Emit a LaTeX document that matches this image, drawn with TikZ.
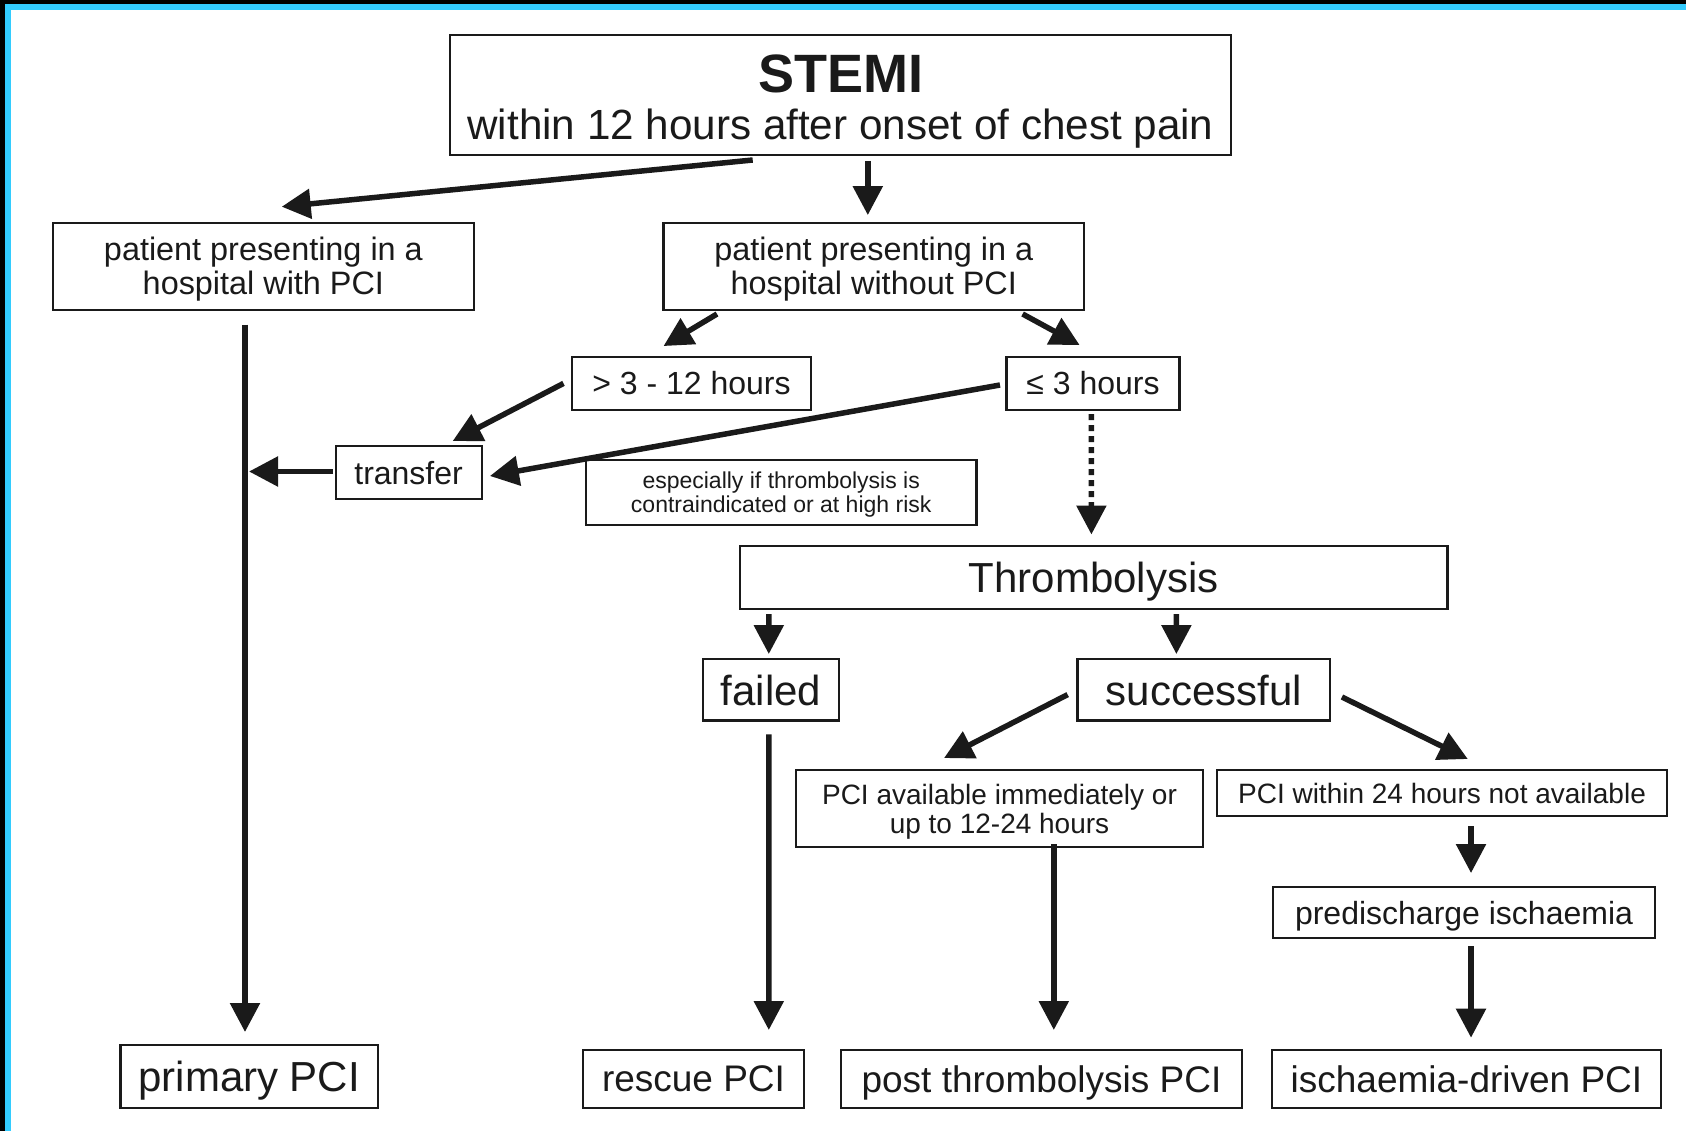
\documentclass[tikz,border=0pt]{standalone}
\usepackage{fontspec}
\setmainfont{Liberation Sans}
\usetikzlibrary{arrows.meta}
\definecolor{framecyan}{HTML}{33CCFF}
\definecolor{ink}{HTML}{1A1A1A}
\begin{document}
\begin{tikzpicture}[x=1pt,y=-1pt,
  box/.style={draw=ink, line width=2.2pt, inner sep=0pt, outer sep=0pt, align=center, text=ink, text depth=0pt},
  fA/.style={font=\fontsize{42}{44}\selectfont},
  fB/.style={font=\fontsize{32}{34}\selectfont},
  fC/.style={font=\fontsize{28}{29}\selectfont},
  fD/.style={font=\fontsize{23}{24.5}\selectfont},
  fE/.style={font=\fontsize{37}{39}\selectfont},
  arr/.style={draw=ink, line width=5.5pt, -{Triangle[length=29pt,width=29pt]}},
  dotarr/.style={arr, dash pattern=on 6pt off 5pt}]
\useasboundingbox (0,0) rectangle (1686,1131);
\fill[white] (0,0) rectangle (1686,1131);
% frame strips
\fill[black] (0,0) rectangle (1686,4);
\fill[black] (0,0) rectangle (5,1131);
\fill[framecyan] (5,4) rectangle (1686,10);
\fill[framecyan] (5,4) rectangle (11,1131);

% boxes
\node[box, minimum width=781pt, minimum height=120pt] (stemi) at (840.5,95) {};
\node[anchor=base, text=ink, font=\fontsize{54}{56}\selectfont\bfseries] (stemiT) at (840.5,92.5) {STEMI};
\node[anchor=base, text=ink, font=\fontsize{42.2}{44}\selectfont] (stemiS) at (840.5,140) {within 12 hours after onset of chest pain};

\node[box, font=\fontsize{32.4}{34}\selectfont, minimum width=421.3pt, minimum height=87pt] (withpci) at (263.4,266.2) {patient presenting in a\\hospital with PCI};
\node[box, font=\fontsize{32.4}{34}\selectfont, minimum width=420.5pt, minimum height=87pt] (withoutpci) at (873.7,266.2) {patient presenting in a\\hospital without PCI};
\node[box, fB, minimum width=239pt, minimum height=52.7pt] (late) at (691.5,383.4) {> 3 - 12 hours};
\node[box, fB, minimum width=173pt, minimum height=52.7pt] (early) at (1093,383.4) {≤ 3 hours};
\node[box, fB, minimum width=146pt, minimum height=53pt] (transfer) at (408.6,472.5) {transfer};
\node[box, fD, minimum width=390.4pt, minimum height=64.7pt] (note) at (781.2,492.4) {especially if thrombolysis is\\contraindicated or at high risk};
\node[box, fA, minimum width=707.6pt, minimum height=62.6pt] (thrombo) at (1093.6,577.3) {Thrombolysis};
\node[box, fA, minimum width=135.7pt, minimum height=61.5pt] (failed) at (770.9,689.8) {failed};
\node[box, fA, minimum width=252.5pt, minimum height=61.5pt] (success) at (1203.7,689.8) {successful};
\node[box, fC, minimum width=407.6pt, minimum height=77.3pt] (avail) at (999.5,808.7) {PCI available immediately or\\up to 12-24 hours};
\node[box, fC, minimum width=449.5pt, minimum height=46pt] (notavail) at (1442,793) {PCI within 24 hours not available};
\node[box, fB, minimum width=382pt, minimum height=50.7pt] (predis) at (1464,912.4) {predischarge ischaemia};
\node[box, fA, minimum width=257.6pt, minimum height=63pt] (primary) at (249.2,1076.5) {primary PCI};
\node[box, fE, minimum width=221pt, minimum height=58pt] (rescue) at (693.5,1079) {rescue PCI};
\node[box, fE, minimum width=401pt, minimum height=58pt] (post) at (1041.5,1079) {post thrombolysis PCI};
\node[box, fE, minimum width=389pt, minimum height=58pt] (ischdriven) at (1466.5,1079) {ischaemia-driven PCI};

\coordinate (join) at (249,471.5);

% connectors
\draw[arr] ([xshift=-87.8pt,yshift=-5pt]stemi.south) -- ([xshift=18.3pt,yshift=16pt]withpci.north);
\draw[arr] ([xshift=27.3pt,yshift=-6pt]stemi.south) -- ([xshift=-5.9pt,yshift=7.6pt]withoutpci.north);
\draw[arr] ([xshift=-156.7pt,yshift=-4.3pt]withoutpci.south) -- ([xshift=-28pt,yshift=11pt]late.north);
\draw[arr] ([xshift=148.9pt,yshift=-4.3pt]withoutpci.south) -- ([xshift=-13.4pt,yshift=12pt]early.north);
\draw[arr] ([xshift=-8.5pt]late.west) -- ([xshift=44.1pt,yshift=5pt]transfer.north);
\draw[arr] ([xshift=-6.5pt,yshift=-1.6pt]early.west) -- ([xshift=8.3pt,yshift=-3.5pt]transfer.east);
\draw[arr] ([xshift=-2.5pt,yshift=1pt]transfer.west) -- (join);
\draw[arr] ([xshift=-18.4pt,yshift=-15pt]withpci.south) -- ([xshift=-4.2pt,yshift=13pt]primary.north);
\draw[dotarr] ([xshift=-1.6pt,yshift=-4.3pt]early.south) -- ([xshift=-2.2pt,yshift=11.5pt]thrombo.north);
\draw[arr] ([xshift=-324.8pt,yshift=-5.4pt]thrombo.south) -- ([xshift=-2.1pt,yshift=5pt]failed.north);
\draw[arr] ([xshift=82.8pt,yshift=-5.4pt]thrombo.south) -- ([xshift=-27.3pt,yshift=5pt]success.north);
\draw[arr] ([xshift=-9.8pt,yshift=-4.8pt]success.west) -- ([xshift=-55.5pt,yshift=12pt]avail.north);
\draw[arr] ([xshift=12pt,yshift=-7.2pt]success.east) -- ([xshift=25.8pt,yshift=11pt]notavail.north);
\draw[arr] ([xshift=-2.1pt,yshift=-13.9pt]failed.south) -- ([xshift=75.3pt,yshift=20pt]rescue.north);
\draw[arr] ([xshift=54.3pt,yshift=3.3pt]avail.south) -- ([xshift=12.3pt,yshift=20pt]post.north);
\draw[arr] ([xshift=29pt,yshift=-10pt]notavail.south) -- ([xshift=7pt,yshift=14pt]predis.north);
\draw[arr] ([xshift=7pt,yshift=-8.3pt]predis.south) -- ([xshift=4.5pt,yshift=12.3pt]ischdriven.north);
\end{tikzpicture}
\end{document}
